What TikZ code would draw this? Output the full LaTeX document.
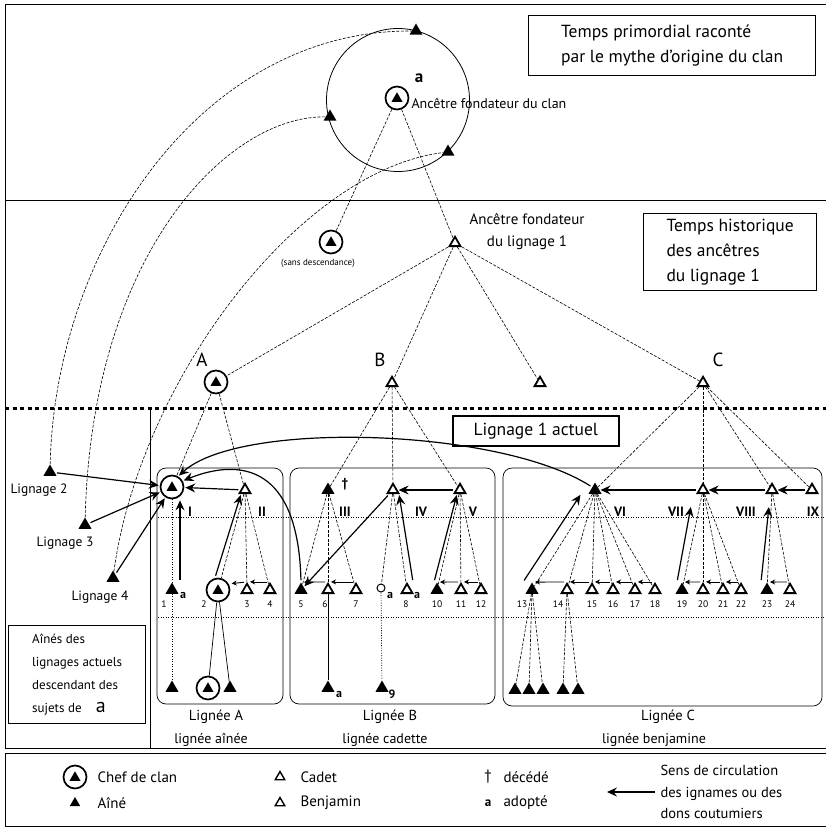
\documentclass[tikz,border=0pt]{standalone}
\usepackage{fontspec}
\setmainfont{PT Sans}
\usepackage{tikz}
\usetikzlibrary{shapes.geometric,arrows.meta}

\begin{document}
\begin{tikzpicture}
      [ x=1pt, y=-1pt, font=\fontsize{12.5}{15}\selectfont,
        aine/.style={regular polygon, regular polygon sides=3, fill, inner sep=0pt, minimum size=15pt},
        cadet/.style={regular polygon, regular polygon sides=3, draw, line width=1.8pt, inner sep=0pt, minimum size=12.5pt},
        chef/.style={circle, draw, line width=1.7pt, minimum size=23pt, inner sep=0pt,
          path picture={\fill ([shift={(-5.5pt,-3.8pt)}]path picture bounding box.center)
                          -- ++(11pt,0pt) -- ++(-5.5pt,9.5pt) -- cycle;}},
        lien/.style={dash pattern=on 3pt off 1.5pt, line width=.6pt},
        point/.style={dash pattern=on 1pt off 1.5pt, line width=.7pt},
        don/.style={-{Stealth[length=10pt,width=9pt,inset=3.5pt]}, line width=1.2pt, shorten >=1pt, shorten <=2pt},
        petit/.style={-{Stealth[length=5pt,width=5pt,inset=1.5pt]}, line width=.9pt, shorten >=3pt, shorten <=3pt},
        cadre/.style={draw, line width=1.3pt, anchor=north west, align=left, inner xsep=6pt, inner ysep=0pt},
        num/.style={font=\fontsize{9.5}{10}\selectfont, inner sep=1pt},
        rang/.style={font=\fontsize{13.5}{14}\bfseries\selectfont},
        lettre/.style={font=\fontsize{19}{20}\selectfont},
        adop/.style={font=\fontsize{12}{12}\bfseries\selectfont, inner sep=0pt},
        leg/.style={anchor=west, font=\fontsize{15}{16}\selectfont}
      ]
      \useasboundingbox (0,0) rectangle (826,829);

      % cadres et separations
      \draw[line width=1pt] (826,5) -- (5,5) -- (5,748) -- (826,748);
      \draw[line width=1pt] (5,200) -- (826,200);
      \draw[line width=3pt, dash pattern=on 4pt off 3.5pt] (5,408) -- (826,408);
      \draw[line width=1pt] (150,408) -- (150,748);
      \draw[line width=1pt] (826,753) -- (5,753) -- (5,826) -- (826,826);
      \draw[point, line width=.5pt] (158,517) -- (826,517);
      \draw[point, line width=.5pt] (158,617) -- (826,617);
      \draw[rounded corners=9pt, line width=.7pt] (157,468) rectangle (283,704);
      \draw[rounded corners=9pt, line width=.7pt] (290,468) rectangle (495,704);
      \draw[rounded corners=9pt, line width=.7pt] (503,468) rectangle (822,706);

      % temps primordial
      \node[circle, draw, line width=.8pt, minimum size=143pt] (mythe) at (398,100) {};
      \node[chef] (clan) at (397,98) {};
      \node[font=\fontsize{17}{18}\bfseries\selectfont] (a0) at (419,78) {a};
      \node[anchor=west, font=\fontsize{14}{15}\selectfont] (clanlab) at (408,103) {Ancêtre fondateur du clan};
      \node[aine] (m2) at (416,31) {};
      \node[aine] (m3) at (330,117) {};
      \node[aine] (m4) at (448,152) {};
      \node[cadre, minimum width=287pt, minimum height=60pt, font=\fontsize{17.5}{25}\selectfont]
        (primo) at (528,15) {Temps primordial raconté\\par le mythe d'origine du clan};

      % temps historique
      \node[chef] (sans) at (331,242) {};
      \node[font=\fontsize{9}{10}\selectfont] (sanslab) at (318,263) {(sans descendance)};
      \node[cadet] (fond) at (455,243) {};
      \node[align=center, font=\fontsize{15}{22}\selectfont] (fondlab) at (527,232) {Ancêtre fondateur\\du lignage 1};
      \node[cadre, minimum width=173pt, minimum height=77pt, font=\fontsize{17.5}{25}\selectfont]
        (histo) at (643,213) {Temps historique\\des ancêtres\\du lignage 1};
      \node[chef]  (A) at (216,382) {};
      \node[cadet] (B) at (392,383) {};
      \node[cadet] (X) at (540,383) {};
      \node[cadet] (C) at (703,383) {};
      \node[lettre] (Alab) at (202,360) {A};
      \node[lettre] (Blab) at (380,360) {B};
      \node[lettre] (Clab) at (718,360) {C};

      % lignage actuel
      \node[cadre, minimum width=166pt, minimum height=30pt, line width=1.6pt, font=\fontsize{17.5}{18}\selectfont]
        (actuel) at (452,415) {Lignage 1 actuel};
      \node[chef]  (I)    at (172,487) {};
      \node[cadet] (II)   at (245,490) {};
      \node[aine]  (III)  at (328,490) {};
      \node[cadet] (IV)   at (393,490) {};
      \node[cadet] (V)    at (460,490) {};
      \node[aine]  (VI)   at (595,490) {};
      \node[cadet] (VII)  at (703,490) {};
      \node[cadet] (VIII) at (772,490) {};
      \node[cadet] (IX)   at (812,490) {};
      \foreach \n/\x in {I/190, II/262, III/345, IV/421, V/473, VI/620, VII/676, VIII/746, IX/813}
        \node[rang] (r\n) at (\x,512) {\n};
      \node[font=\fontsize{13}{14}\bfseries\selectfont] (mort) at (345,484) {†};

      \node[aine] (n1) at (172,590) {};
      \node[chef] (n2) at (218,590) {};
      \foreach \n/\x in {5/301, 10/437, 13/532, 19/682, 23/767}
        \node[aine] (n\n) at (\x,590) {};
      \foreach \n/\x in {3/247, 4/270, 6/328, 7/356, 8/407, 11/461, 12/481, 14/567, 15/592,
                         16/613, 17/635, 18/655, 20/703, 21/723, 22/741, 24/790}
        \node[cadet] (n\n) at (\x,590) {};
      \node[circle, draw, line width=1pt, minimum size=8pt, inner sep=0pt] (oa) at (381,588) {};
      \foreach \n/\x in {1/164, 2/204, 3/247, 4/270, 5/301, 6/325, 7/356, 8/406, 10/437, 11/461,
                         12/481, 13/522, 14/558, 15/592, 16/613, 17/635, 18/655, 19/682,
                         20/703, 21/723, 22/741, 23/767, 24/790}
        \node[num] (k\n) at (\x,604) {\n};
      \node[adop] (ad1) at (183,595) {a};
      \node[adop] (ad2) at (390,595) {a};
      \node[adop] (ad3) at (417,595) {a};

      \node[aine] (a1) at (172,688) {};
      \node[chef] (a2) at (208,688) {};
      \node[aine] (a3) at (230,688) {};
      \node[aine] (b1) at (328,688) {};
      \node[aine] (b2) at (382,688) {};
      \node[adop] (ad4) at (339,694) {a};
      \node[adop] (ad5) at (392,694) {9};
      \foreach \n/\x in {1/515, 2/529, 3/543, 4/563, 5/578}
        \node[aine] (c\n) at (\x,690) {};

      \node[font=\fontsize{14.5}{15}\selectfont] (ligA) at (216,717) {Lignée A};
      \node[font=\fontsize{14}{15}\selectfont] (ligAs) at (211,740) {lignée aînée};
      \node[font=\fontsize{14.5}{15}\selectfont] (ligB) at (390,717) {Lignée B};
      \node[font=\fontsize{14}{15}\selectfont] (ligBs) at (385,740) {lignée cadette};
      \node[font=\fontsize{14.5}{15}\selectfont] (ligC) at (668,717) {Lignée C};
      \node[font=\fontsize{14}{15}\selectfont] (ligCs) at (654,740) {lignée benjamine};

      % autres lignages
      \node[aine] (L2) at (50,472) {};
      \node[font=\fontsize{13.5}{15}\selectfont] (L2lab) at (39,490) {Lignage 2};
      \node[aine] (L3) at (85,525) {};
      \node[font=\fontsize{13.5}{15}\selectfont] (L3lab) at (65,543) {Lignage 3};
      \node[aine] (L4) at (113,578) {};
      \node[font=\fontsize{13.5}{15}\selectfont] (L4lab) at (100,597) {Lignage 4};
      \node[cadre, minimum width=137pt, minimum height=98pt, inner xsep=4pt, font=\fontsize{13}{23}\selectfont]
        (aines) at (8,625) {Aînés des\\lignages actuels\\descendant des\\sujets de\hspace{1.1em}{\fontsize{20}{20}\selectfont a}};

      % filiation
      \foreach \p/\c in {clan/sans, clan/fond, fond/A, fond/B, fond/X, fond/C,
                         A/I, A/II, B/III, B/IV, B/V, C/VI, C/VII, C/VIII, C/IX,
                         II/n2, II/n3, II/n4, III/n5, III/n6, III/n7, IV/oa, IV/n8,
                         V/n10, V/n11, V/n12, VI/n13, VI/n14, VI/n15, VI/n16, VI/n17, VI/n18,
                         VII/n19, VII/n20, VII/n21, VII/n22, VIII/n23, VIII/n24,
                         n13/c1, n13/c2, n13/c3, n14/c4, n14/c5}
        \draw[lien] (\p) -- (\c);
      \draw[point] (I) -- (n1);
      \draw[point] (n1) -- (a1);
      \draw[point] (oa) -- (b2);
      \draw[line width=.7pt] (n2) -- (a2);
      \draw[line width=.7pt] (n2) -- (a3);
      \draw[line width=.7pt] (n6) -- (b1);
      \draw[lien] (L2) .. controls (55,250) and (200,30) .. (m2);
      \draw[lien] (L3) .. controls (92,250) and (230,115) .. (m3);
      \draw[lien] (L4) .. controls (140,380) and (300,170) .. (m4);

      % circulation des dons
      \draw[don] (L2) -- (I);
      \draw[don] (L3) -- (I);
      \draw[don] (L4) -- (I);
      \draw[don] (II) -- (I);
      \draw[don] ([xshift=8pt]n1.north) -- ([xshift=8pt]I.south);
      \draw[don] ([xshift=-3pt]n2.north) -- ([xshift=-4pt]II.south);
      \draw[don] (n5.north) .. controls (298,465) and (240,458) .. (I.30);
      \draw[don] (VI.north west) .. controls (500,428) and (240,420) .. (I.60);
      \draw[don] (IV) -- (n5);
      \draw[don] (V) -- (IV);
      \draw[don] ([xshift=6pt]n8.north) -- ([xshift=6pt]IV.south);
      \draw[don] ([xshift=-3pt]n10.north) -- ([xshift=-3pt]V.south);
      \draw[don] (VII) -- (VI);
      \draw[don] (VIII) -- (VII);
      \draw[don] (IX) -- (VIII);
      \draw[don] ([xshift=-9pt]n13.north) -- ([xshift=-14pt]VI.south);
      \coordinate (t19) at (691,506);
      \coordinate (t23) at (769,506);
      \draw[don] ([xshift=-5pt]n19.north) -- (t19);
      \draw[don] ([xshift=-6pt]n23.north) -- (t23);
      \draw[petit] (n3.north) -- (n2.30);
      \foreach \a/\b in {n4/n3, n6/n5, n7/n6, n11/n10, n12/n11, n14/n13, n15/n14, n16/n15,
                         n17/n16, n18/n17, n20/n19, n21/n20, n22/n21, n24/n23}
        \draw[petit] (\a.north) -- (\b.north);

      % legende
      \node[chef] (lchef) at (75,777) {};
      \node[leg] (lchefl) at (94,777) {Chef de clan};
      \node[aine, minimum size=12pt] (laine) at (75,803) {};
      \node[leg] (lainel) at (94,803) {Aîné};
      \node[cadet, minimum size=11pt, line width=1.4pt] (lcadet) at (280,777) {};
      \node[leg] (lcadetl) at (297,777) {Cadet};
      \node[cadet, minimum size=11pt, line width=1.4pt] (lbenj) at (280,803) {};
      \node[leg] (lbenjl) at (297,803) {Benjamin};
      \node[font=\fontsize{15}{16}\selectfont] (ldec) at (488,777) {†};
      \node[leg] (ldecl) at (500,777) {décédé};
      \node[font=\fontsize{13}{16}\bfseries\selectfont] (ladop) at (488,803) {a};
      \node[leg] (ladopl) at (500,803) {adopté};
      \coordinate (sens1) at (657,792);
      \coordinate (sens0) at (606,792);
      \draw[don] (sens1) -- (sens0);
      \node[anchor=west, align=left, font=\fontsize{14.5}{21.5}\selectfont] (sens) at (657,792)
        {Sens de circulation\\des ignames ou des\\dons coutumiers};
\end{tikzpicture}
\end{document}
